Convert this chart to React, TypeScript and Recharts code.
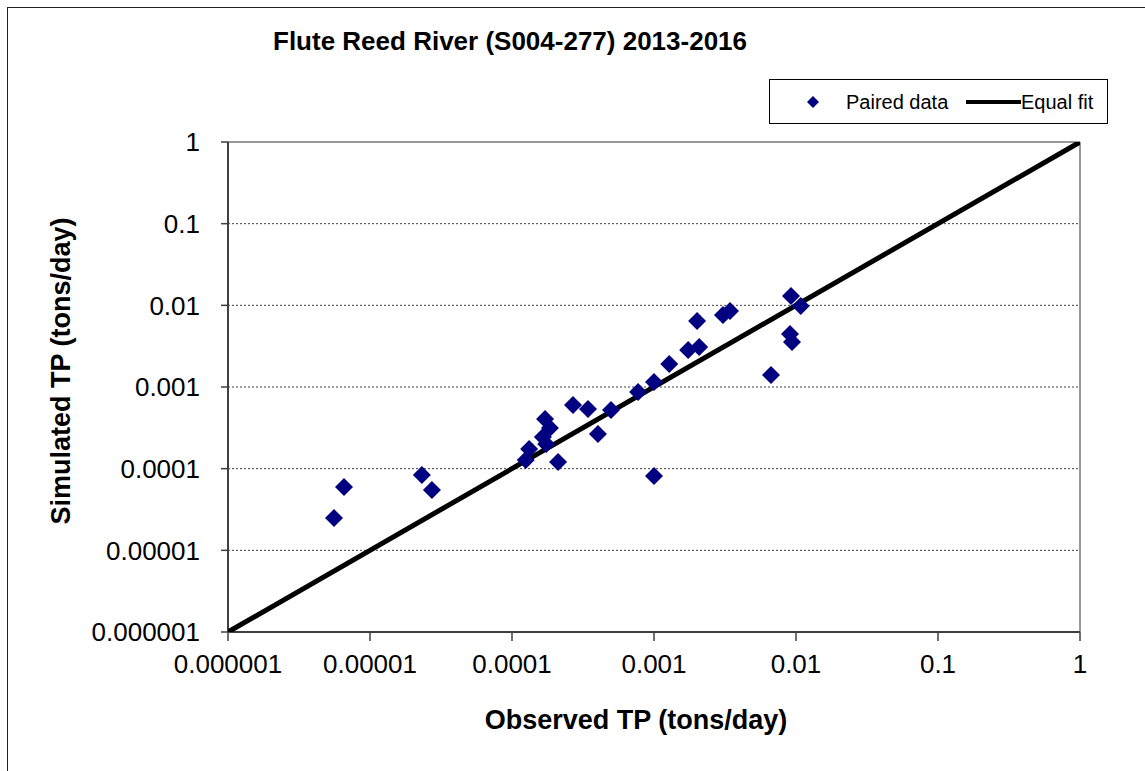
import { CartesianGrid, Label, ReferenceLine, Scatter, ScatterChart, XAxis, YAxis } from "recharts";

// Observed vs simulated TP.
const OBS_TP = [
  5.58e-6, 6.56e-6, 2.32e-5, 2.73e-5, 1.25e-4, 1.32e-4, 1.71e-4, 1.85e-4, 1.65e-4, 1.74e-4,
  2.11e-4, 2.69e-4, 3.43e-4, 4.03e-4, 4.98e-4, 7.72e-4, 1.0e-3, 1.0e-3, 1.28e-3, 1.74e-3,
  2.08e-3, 2.01e-3, 3.06e-3, 3.43e-3, 6.67e-3, 9.22e-3, 1.08e-2, 9.07e-3, 9.37e-3,
];
const SIM_TP = [
  2.49e-5, 5.96e-5, 8.36e-5, 5.48e-5, 1.28e-4, 1.74e-4, 4.06e-4, 3.15e-4, 2.44e-4, 2.0e-4,
  1.21e-4, 6.02e-4, 5.38e-4, 2.66e-4, 5.23e-4, 8.69e-4, 1.15e-3, 8.13e-5, 1.91e-3, 2.84e-3,
  3.09e-3, 6.43e-3, 7.61e-3, 8.52e-3, 1.40e-3, 1.30e-2, 9.81e-3, 4.46e-3, 3.56e-3,
];

// 1:1 line end points
const FIT_X = [0.000001, 1];
const FIT_Y = [0.000001, 1];

const TICK_VALUES = [0.000001, 0.00001, 0.0001, 0.001, 0.01, 0.1, 1];
const TICK_LABELS = ["0.000001", "0.00001", "0.0001", "0.001", "0.01", "0.1", "1"];

const TITLE = "Flute Reed River (S004-277) 2013-2016";
const X_TITLE = "Observed TP (tons/day)";
const Y_TITLE = "Simulated TP (tons/day)";

const FONT = "'Liberation Sans', Arial, Helvetica, sans-serif";
const NAVY = "#000080";

const paired = OBS_TP.map((x, i) => ({ x, y: SIM_TP[i] }));
const fit = FIT_X.map((x, i) => ({ x, y: FIT_Y[i] }));

const fmtTick = (v: number) => {
  const i = TICK_VALUES.findIndex((t) => Math.abs(Math.log10(t) - Math.log10(v)) < 1e-6);
  return i >= 0 ? TICK_LABELS[i] : String(v);
};

function Diamond({ cx, cy }: { cx?: number; cy?: number }) {
  if (cx == null || cy == null) return null;
  const r = 9;
  return (
    <path
      d={`M${cx},${cy - r}L${cx + r},${cy}L${cx},${cy + r}L${cx - r},${cy}Z`}
      fill={NAVY}
    />
  );
}

const tickStyle = { fontSize: 26, fill: "#000", fontFamily: FONT };

export default function App() {
  return (
    <div
      style={{
        position: "absolute",
        left: 0,
        top: 0,
        width: 1145,
        height: 771,
        overflow: "hidden",
        background: "#fff",
        fontFamily: FONT,
      }}
    >
      {/* chart area border (right/bottom edges fall outside the crop) */}
      <div
        style={{
          position: "absolute",
          left: 7,
          top: 7,
          width: 1200,
          height: 800,
          border: "1.5px solid #222",
        }}
      />
      <div
        style={{
          position: "absolute",
          left: 273,
          top: 28,
          fontSize: 26,
          lineHeight: "26px",
          fontWeight: "bold",
          whiteSpace: "nowrap",
          color: "#000",
        }}
      >
        {TITLE}
      </div>

      <ScatterChart
        width={1145}
        height={771}
        margin={{ top: 142, right: 65, bottom: 79, left: 128 }}
        style={{ position: "absolute", left: 0, top: 0 }}
      >
        <CartesianGrid
          vertical={false}
          stroke="#404040"
          strokeDasharray="2 2"
          strokeWidth={1}
        />
        <XAxis
          type="number"
          dataKey="x"
          scale="log"
          domain={[0.000001, 1]}
          ticks={TICK_VALUES}
          tickFormatter={fmtTick}
          allowDataOverflow
          height={60}
          tick={tickStyle}
          tickSize={9}
          tickMargin={14}
          axisLine={{ stroke: "#404040", strokeWidth: 2 }}
          tickLine={{ stroke: "#404040", strokeWidth: 1.5 }}
          interval={0}
        >
          <Label
            content={() => (
              <text
                x={636}
                y={729}
                textAnchor="middle"
                fontSize={27}
                fontWeight="bold"
                fontFamily={FONT}
                fill="#000"
              >
                {X_TITLE}
              </text>
            )}
          />
        </XAxis>
        <YAxis
          type="number"
          dataKey="y"
          scale="log"
          domain={[0.000001, 1]}
          ticks={TICK_VALUES}
          tickFormatter={fmtTick}
          allowDataOverflow
          width={100}
          tick={tickStyle}
          tickSize={7}
          tickMargin={21}
          axisLine={{ stroke: "#404040", strokeWidth: 2 }}
          tickLine={{ stroke: "#404040", strokeWidth: 1.5 }}
          interval={0}
        >
          <Label
            content={() => (
              <text
                x={70}
                y={371}
                transform="rotate(-90 70 371)"
                textAnchor="middle"
                fontSize={27}
                fontWeight="bold"
                fontFamily={FONT}
                fill="#000"
              >
                {Y_TITLE}
              </text>
            )}
          />
        </YAxis>
        {/* plot area frame, top and right */}
        <ReferenceLine y={1} stroke="#999" strokeWidth={2} ifOverflow="visible" />
        <ReferenceLine x={1} stroke="#999" strokeWidth={2} ifOverflow="visible" />
        <Scatter
          name="Equal fit"
          data={fit}
          line={{ stroke: "#000", strokeWidth: 5 }}
          shape={() => null}
          isAnimationActive={false}
        />
        <Scatter
          name="Paired data"
          data={paired}
          shape={(p: any) => <Diamond cx={p.cx} cy={p.cy} />}
          isAnimationActive={false}
        />
      </ScatterChart>

      {/* legend */}
      <div
        style={{
          position: "absolute",
          left: 769,
          top: 79,
          width: 337,
          height: 43,
          border: "1px solid #000",
          background: "#fff",
          fontSize: 20,
          color: "#000",
        }}
      >
        <svg width={337} height={43} style={{ position: "absolute", left: 0, top: 0 }}>
          <path d="M43,16L49,22L43,28L37,22Z" fill={NAVY} />
          <text x={76} y={29} fontSize={20} fontFamily={FONT} fill="#000">
            Paired data
          </text>
          <line x1={196} y1={22} x2={251} y2={22} stroke="#000" strokeWidth={4} />
          <text x={251} y={29} fontSize={20} fontFamily={FONT} fill="#000">
            Equal fit
          </text>
        </svg>
      </div>
    </div>
  );
}
